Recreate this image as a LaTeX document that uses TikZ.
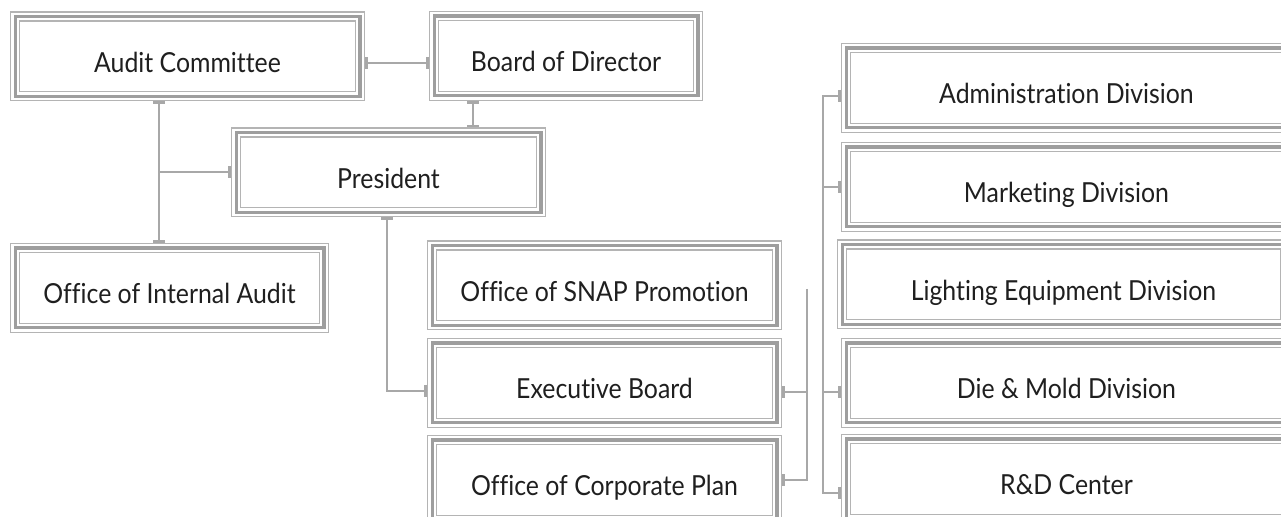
\documentclass[tikz,border=0pt]{standalone}
\usepackage{fontspec}
\setmainfont{Lato}[FakeStretch=0.9,Ligatures=NoCommon]
\usetikzlibrary{arrows.meta}

\definecolor{boxgray}{HTML}{B4B4B4}
\definecolor{bandgray}{HTML}{9E9E9E}
\definecolor{linegray}{HTML}{A8A8A8}

\tikzset{
  orgbox/.style={fill=white, minimum height=45pt, inner sep=0pt, outer sep=0pt,
    font=\fontsize{13.8}{16}\selectfont, text=black!88, text height=16pt, text depth=0pt,
    path picture={
      \draw[boxgray, line width=0.7pt] ([shift={(0.35pt,0.35pt)}]path picture bounding box.south west) rectangle ([shift={(-0.35pt,-0.35pt)}]path picture bounding box.north east);
      \draw[bandgray, line width=1.7pt] ([shift={(2.6pt,2.6pt)}]path picture bounding box.south west) rectangle ([shift={(-2.6pt,-2.6pt)}]path picture bounding box.north east);
      \draw[boxgray, line width=0.7pt] ([shift={(4.85pt,4.85pt)}]path picture bounding box.south west) rectangle ([shift={(-4.85pt,-4.85pt)}]path picture bounding box.north east);
    }},
  link/.style={linegray, line width=1pt},
}

\begin{document}
\begin{tikzpicture}[x=0.5pt,y=-0.5pt,>={Bar[width=6pt,line width=1.4pt]}]
  \fill[white] (0,0) rectangle (1281,517);
  \useasboundingbox (0,0) rectangle (1281,517);
  \clip (0,0) rectangle (1281,517);

  \node[orgbox, minimum width=177.5pt] (ac) at (187.5,56.5) {Audit Committee};
  \node[orgbox, minimum width=137pt] (bd) at (566,56) {Board of Director};
  \node[orgbox, minimum width=157.5pt] (pr) at (388.5,172.5) {President};
  \node[orgbox, minimum width=159.5pt] (oia) at (169.5,288) {Office of Internal Audit};
  \node[orgbox, minimum width=177.5pt] (snap) at (604.5,285.5) {Office of SNAP Promotion};
  \node[orgbox, minimum width=177.5pt] (eb) at (604.5,383) {Executive Board};
  \node[orgbox, minimum width=177.5pt] (ocp) at (604.5,480) {Office of Corporate Plan};
  \node[orgbox, minimum width=225.5pt] (adm) at (1066.5,88) {Administration Division};
  \node[orgbox, minimum width=225.5pt] (mkt) at (1066.5,187) {Marketing Division};
  \node[orgbox, minimum width=226.5pt] (lig) at (1063.5,284.5) {Lighting Equipment Division};
  \node[orgbox, minimum width=225.5pt] (die) at (1066.5,383) {Die \& Mold Division};
  \node[orgbox, minimum width=225.5pt] (rd) at (1066.5,479) {R\&D Center};

  \coordinate (v1) at (807,289);
  \coordinate (bus) at (823,96);

  \draw[link,<->] ([yshift=-3.25pt]ac.east) coordinate (a1) -- (a1 -| bd.west);
  \draw[link,<->] ([xshift=-46.5pt]bd.south) coordinate (b1) -- (b1 |- pr.north);
  \draw[link,<->] ([xshift=-14.25pt]ac.south) coordinate (c1) -- (c1 |- oia.north);
  \draw[link,->] (c1 |- pr.west) -- (pr.west);
  \draw[link,<->] ([xshift=-0.75pt]pr.south) |- ([yshift=-4pt]eb.west);
  \draw[link,<-] ([yshift=-4.5pt]eb.east) coordinate (e1) -- (e1 -| v1);
  \draw[link,->] (v1) |- (ocp.east);
  \draw[link,<->] ([yshift=-4pt]adm.west) coordinate (t1) -- (t1 -| bus) |- ([yshift=-7pt]rd.west);
  \draw[link,->] (bus |- mkt.west) -- (mkt.west);
  \draw[link,<-] ([yshift=-4.5pt]die.west) coordinate (d1) -- (d1 -| bus);
\end{tikzpicture}
\end{document}
